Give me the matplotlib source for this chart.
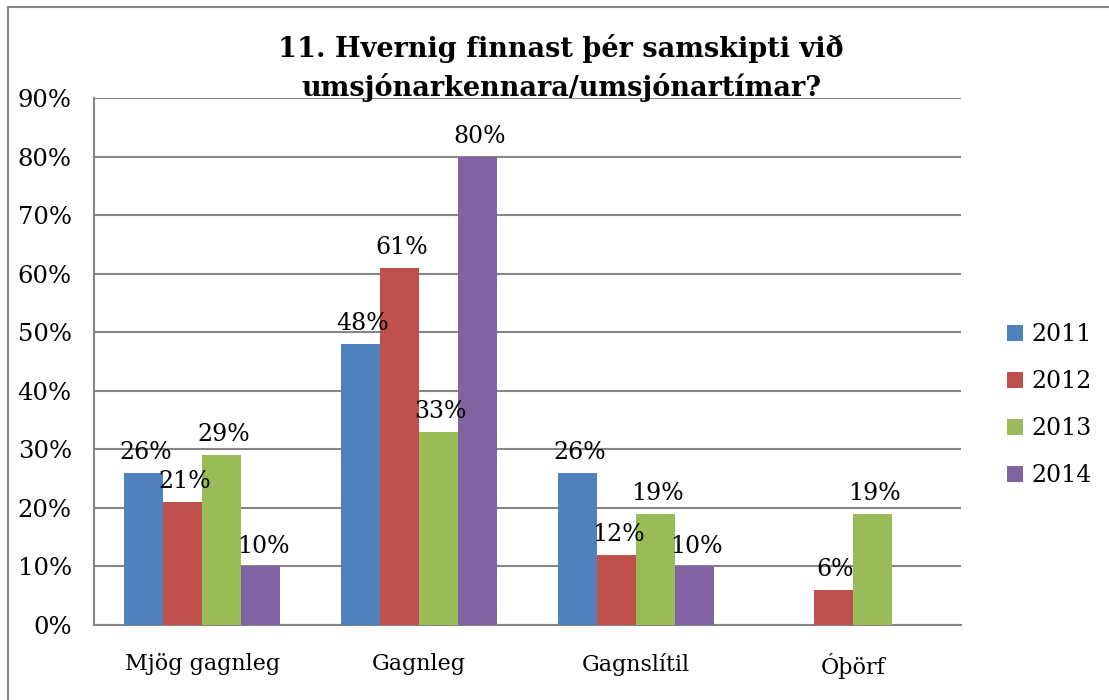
import numpy as np
import matplotlib.pyplot as plt
from matplotlib.lines import Line2D

# Data
categories = ['Mjög gagnleg', 'Gagnleg', 'Gagnslítil', 'Óþörf']
years = ['2011', '2012', '2013', '2014']
v2011 = [26, 48, 26, None]
v2012 = [21, 61, 12, 6]
v2013 = [29, 33, 19, 19]
v2014 = [10, 80, 10, None]
series = [v2011, v2012, v2013, v2014]
colors = ['#4F81BD', '#C0504D', '#9BBB59', '#8064A2']

plt.rcParams['font.family'] = ['DejaVu Serif']

fig = plt.figure(figsize=(11.09, 7), dpi=100)
ax = fig.add_axes([94/1109, 75/700, 867/1109, 527/700])

# border of the chart area (only top and left are visible)
fig.lines.append(Line2D([8/1109, 8/1109], [0, 1 - 7/700], transform=fig.transFigure,
                        color='#868686', linewidth=1.5))
fig.lines.append(Line2D([8/1109, 1], [1 - 7/700, 1 - 7/700], transform=fig.transFigure,
                        color='#868686', linewidth=1.5))

x = np.arange(len(categories)) + 0.5
w = 0.18
for j, (vals, col, yr) in enumerate(zip(series, colors, years)):
    pos = x + (j - 1.5) * w
    h = [v if v is not None else 0 for v in vals]
    ax.bar(pos, h, width=w, color=col, label=yr, zorder=3)
    for p, v in zip(pos, vals):
        if v is None:
            continue
        ax.text(p + 0.01, v + 1.5, f'{v}%', ha='center', va='bottom',
                fontsize=17, zorder=4)

ax.set_xlim(0, 4)
ax.set_ylim(0, 90)
ax.set_yticks(range(0, 91, 10))
ax.set_yticklabels([f'{t}%' for t in range(0, 91, 10)], fontsize=17.5)
ax.set_xticks(x)
ax.set_xticklabels(categories, fontsize=16)
ax.tick_params(axis='y', length=0, pad=16)
ax.tick_params(axis='x', length=0, pad=20)
ax.grid(axis='y', color='#868686', linewidth=1.5, zorder=0)
for s in ['top', 'right']:
    ax.spines[s].set_visible(False)
for s in ['left', 'bottom']:
    ax.spines[s].set_color('#868686')
    ax.spines[s].set_linewidth(1.5)

fig.text(561/1109, 1 - 68/700, '11. Hvernig finnast þér samskipti við\numsjónarkennara/umsjónartímar?',
         ha='center', va='center', fontsize=19.5, fontweight='bold', linespacing=1.45)

leg = ax.legend(loc='center left', bbox_to_anchor=(1.053, 0.417), frameon=False,
                fontsize=17, handlelength=0.7, handleheight=0.7,
                handletextpad=0.35, labelspacing=1.02, borderaxespad=0, borderpad=0)

fig.savefig('out.png', dpi=100, facecolor='white')
